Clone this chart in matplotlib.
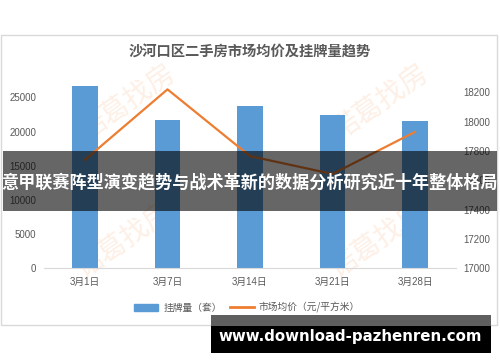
import matplotlib.pyplot as plt
import matplotlib.patches as mpatches
from matplotlib.lines import Line2D
import numpy as np

plt.rcParams['font.family'] = ['Liberation Sans', 'Noto Sans CJK SC', 'DejaVu Sans']

# data
dates = ['3月1日', '3月7日', '3月14日', '3月21日', '3月28日']
listings = [26700, 21700, 23700, 22400, 21600]
avg_price = [17740, 18220, 17765, 17643, 17930]
left_ticks = [0, 5000, 10000, 15000, 20000, 25000]
right_ticks = [17000, 17200, 17400, 17600, 17800, 18000, 18200]

title = '沙河口区二手房市场均价及挂牌量趋势'
bar_label = '挂牌量（套）'
line_label = '市场均价（元/平方米）'
banner = '意甲联赛阵型演变趋势与战术革新的数据分析研究近十年整体格局'
url = 'www.download-pazhenren.com'
mark = '诺葛找房'

blue = '#5b9bd5'
orange = '#ed7d31'
grey = '#595959'

W, H = 500, 362
fig = plt.figure(figsize=(W / 100, H / 100), dpi=100)
fig.patch.set_facecolor('white')


def px(x, y):
    return x / W, 1 - y / H


# chart frame
fig.patches.append(mpatches.Rectangle(px(1, 325), 496 / W, 290 / H, transform=fig.transFigure,
                                      facecolor='white', edgecolor='#d9d9d9', lw=1, zorder=-2))

# watermark behind the bars
for cx, cy in [(127, 102), (380, 102), (124, 240), (378, 240)]:
    fig.text(*px(cx, cy), mark, fontsize=20, color='#fbd3b5', alpha=0.35, rotation=35,
             ha='center', va='center', family=['Noto Sans CJK SC'], zorder=-1)

fig.text(*px(250, 53), title, fontsize=10.3, color=grey, fontweight='bold',
         ha='center', va='center', family=['Noto Sans CJK SC'])

bottom, top = 268.3, 80
ax = fig.add_axes([43.75 / W, 1 - bottom / H, 412.5 / W, (bottom - top) / H])
ax.patch.set_visible(False)
x = np.arange(len(dates))
ax.bar(x, listings, width=0.315, color=blue, zorder=2, clip_on=False)
ax.set_xlim(-0.5, len(dates) - 0.5)
ax.set_ylim(0, 25000 * (bottom - top) / 171)
ax.set_yticks(left_ticks)
ax.set_xticks(x)
ax.set_xticklabels(dates)
for s in ['top', 'left', 'right']:
    ax.spines[s].set_visible(False)
ax.spines['bottom'].set_color('#d9d9d9')
ax.tick_params(axis='both', length=0, labelsize=7, labelcolor=grey)
ax.tick_params(axis='y', pad=5.6)
ax.tick_params(axis='x', pad=6.3)

ax2 = ax.twinx()
ax2.patch.set_visible(False)
ax2.plot(x, avg_price, color=orange, lw=1.6, zorder=3)
ax2.set_ylim(17000, 17000 + 1200 * (bottom - top) / 176)
ax2.set_yticks(right_ticks)
for s in ['top', 'left', 'right', 'bottom']:
    ax2.spines[s].set_visible(False)
ax2.tick_params(axis='y', length=0, labelsize=7, labelcolor=grey, pad=4.9)

handles = [mpatches.Patch(color=blue), Line2D([], [], color=orange, lw=2)]
fig.legend(handles, [bar_label, line_label], loc='center', bbox_to_anchor=px(247, 307.5),
           ncol=2, frameon=False, labelcolor=grey, handlelength=2.5,
           handletextpad=0.5, columnspacing=0.8, prop={'family': ['Noto Sans CJK SC'], 'size': 7})

# overlays on top of everything
ov = fig.add_axes([0, 0, 1, 1], zorder=10)
ov.set_xlim(0, W)
ov.set_ylim(H, 0)
ov.axis('off')
ov.add_patch(mpatches.Rectangle((3, 151), 494, 60, facecolor='black', alpha=0.6, lw=0))
ov.text(250, 182, banner, color='white', fontsize=12.3, fontweight='bold',
        ha='center', va='center', family=['Noto Sans CJK SC'])
ov.add_patch(mpatches.Rectangle((211, 315), 280, 11, facecolor='#5f5f5f', lw=0))
ov.add_patch(mpatches.Rectangle((211, 326), 280, 27, facecolor='black', lw=0))
ov.text(350, 337, url, color='white', fontsize=10.8, fontweight='bold',
        ha='center', va='center', family=['DejaVu Sans'])

fig.savefig('out.png', dpi=100)
